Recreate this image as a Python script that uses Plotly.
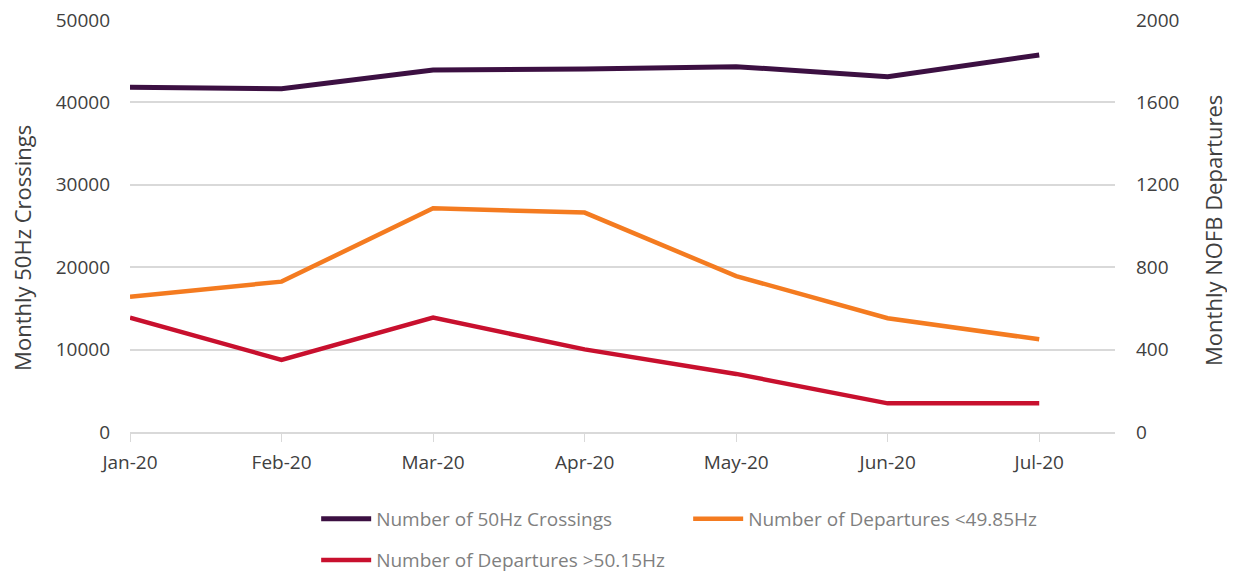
import plotly.graph_objects as go

months = ["Jan-20", "Feb-20", "Mar-20", "Apr-20", "May-20", "Jun-20", "Jul-20"]
crossings_50hz = [41830, 41670, 43930, 44050, 44340, 43120, 45750]
departures_below = [657, 730, 1086, 1065, 757, 552, 450]
departures_above = [555, 350, 555, 401, 282, 139, 139]

left_ticks = [0, 10000, 20000, 30000, 40000, 50000]
right_ticks = [0, 400, 800, 1200, 1600, 2000]

left_title = "Monthly 50Hz Crossings"
right_title = "Monthly NOFB Departures"

FONT = "Open Sans"
TXT = "#404040"
LEG = "#7F7F7F"
GRID = "#D9D9D9"

fig = go.Figure()
fig.add_trace(go.Scatter(x=months, y=crossings_50hz, name="Number of 50Hz Crossings",
                         mode="lines", line=dict(color="#3C1042", width=5), yaxis="y",
                         legend="legend"))
fig.add_trace(go.Scatter(x=months, y=departures_below, name="Number of Departures <49.85Hz",
                         mode="lines", line=dict(color="#F47B20", width=4.5), yaxis="y2",
                         legend="legend"))
fig.add_trace(go.Scatter(x=months, y=departures_above, name="Number of Departures >50.15Hz",
                         mode="lines", line=dict(color="#C8102E", width=4.5), yaxis="y2",
                         legend="legend2"))

leg_common = dict(orientation="h", xanchor="left", yanchor="middle",
                  entrywidth=307, entrywidthmode="pixels", itemwidth=50,
                  font=dict(size=19, color=LEG, family=FONT), bgcolor="rgba(0,0,0,0)")

fig.update_layout(
    width=1227, height=570,
    margin=dict(l=122, r=120, t=12, b=146, autoexpand=False),
    paper_bgcolor="white", plot_bgcolor="white",
    font=dict(family=FONT, color=TXT, size=19),
    xaxis=dict(type="category", range=[0, 6.5], showgrid=False, automargin=False,
               showline=True, linecolor=GRID, linewidth=1.5,
               ticks="outside", ticklen=8, tickcolor=GRID,
               tickfont=dict(size=19, color=TXT), ticklabelstandoff=4),
    yaxis=dict(range=[0, 50000], tickvals=left_ticks, tickformat="d", automargin=False,
               showgrid=True, gridcolor=GRID, gridwidth=1.5, zeroline=False,
               ticklabeloverflow="allow",
               tickfont=dict(size=19, color=TXT), ticklabelstandoff=19),
    yaxis2=dict(range=[0, 2000], tickvals=right_ticks, tickformat="d", overlaying="y", side="right",
                showgrid=False, zeroline=False, automargin=False,
                ticklabeloverflow="allow",
                tickfont=dict(size=19, color=TXT), ticklabelstandoff=20),
    legend=dict(x=0.189, y=-0.211, **leg_common),
    legend2=dict(x=0.189, y=-0.311, **leg_common),
    showlegend=True,
    annotations=[
        dict(text=left_title, xref="paper", yref="paper", x=-0.1096, y=0.447,
             xanchor="center", yanchor="middle", textangle=-90, showarrow=False,
             font=dict(size=22, color=TXT, family=FONT)),
        dict(text=right_title, xref="paper", yref="paper", x=1.0995, y=0.488,
             xanchor="center", yanchor="middle", textangle=-90, showarrow=False,
             font=dict(size=22, color=TXT, family=FONT)),
    ],
)

fig.write_html("out.html")
